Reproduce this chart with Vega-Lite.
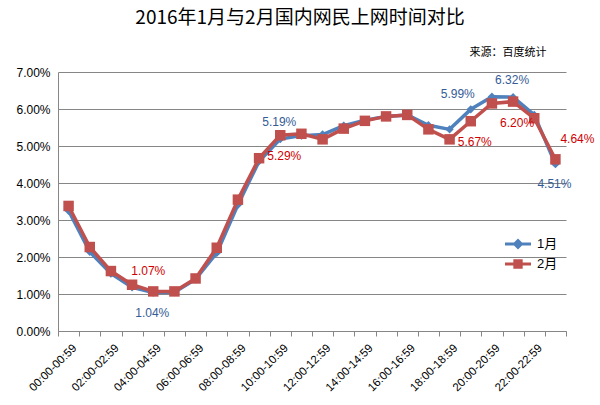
{
  "$schema": "https://vega.github.io/schema/vega-lite/v6.json",
  "width": 508,
  "height": 259,
  "autosize": {"type": "none"},
  "padding": {"left": 58, "top": 72, "right": 34, "bottom": 74},
  "background": "white",
  "config": {
    "view": {"stroke": null},
    "font": "'Liberation Sans', 'Noto Sans CJK SC', sans-serif"
  },
  "title": {
    "text": "2016年1月与2月国内网民上网时间对比",
    "font": "'Noto Sans CJK SC', sans-serif",
    "fontSize": 19,
    "fontWeight": "normal",
    "color": "#000000",
    "anchor": "middle",
    "dx": -12,
    "offset": 18
  },
  "data": {
    "values": [
      {"hour": "00:00-00:59", "series": "1月", "v": 0.0325},
      {"hour": "01:00-01:59", "series": "1月", "v": 0.0214},
      {"hour": "02:00-02:59", "series": "1月", "v": 0.0155},
      {"hour": "03:00-03:59", "series": "1月", "v": 0.0118},
      {"hour": "04:00-04:59", "series": "1月", "v": 0.0104},
      {"hour": "05:00-05:59", "series": "1月", "v": 0.0105},
      {"hour": "06:00-06:59", "series": "1月", "v": 0.0140},
      {"hour": "07:00-07:59", "series": "1月", "v": 0.0211},
      {"hour": "08:00-08:59", "series": "1月", "v": 0.0341},
      {"hour": "09:00-09:59", "series": "1月", "v": 0.0459},
      {"hour": "10:00-10:59", "series": "1月", "v": 0.0519},
      {"hour": "11:00-11:59", "series": "1月", "v": 0.0528},
      {"hour": "12:00-12:59", "series": "1月", "v": 0.0531},
      {"hour": "13:00-13:59", "series": "1月", "v": 0.0555},
      {"hour": "14:00-14:59", "series": "1月", "v": 0.0570},
      {"hour": "15:00-15:59", "series": "1月", "v": 0.0580},
      {"hour": "16:00-16:59", "series": "1月", "v": 0.0584},
      {"hour": "17:00-17:59", "series": "1月", "v": 0.0556},
      {"hour": "18:00-18:59", "series": "1月", "v": 0.0545},
      {"hour": "19:00-19:59", "series": "1月", "v": 0.0599},
      {"hour": "20:00-20:59", "series": "1月", "v": 0.0633},
      {"hour": "21:00-21:59", "series": "1月", "v": 0.0632},
      {"hour": "22:00-22:59", "series": "1月", "v": 0.0584},
      {"hour": "23:00-23:59", "series": "1月", "v": 0.0451},
      {"hour": "00:00-00:59", "series": "2月", "v": 0.0338},
      {"hour": "01:00-01:59", "series": "2月", "v": 0.0227},
      {"hour": "02:00-02:59", "series": "2月", "v": 0.0162},
      {"hour": "03:00-03:59", "series": "2月", "v": 0.0125},
      {"hour": "04:00-04:59", "series": "2月", "v": 0.0107},
      {"hour": "05:00-05:59", "series": "2月", "v": 0.0107},
      {"hour": "06:00-06:59", "series": "2月", "v": 0.0142},
      {"hour": "07:00-07:59", "series": "2月", "v": 0.0225},
      {"hour": "08:00-08:59", "series": "2月", "v": 0.0355},
      {"hour": "09:00-09:59", "series": "2月", "v": 0.0467},
      {"hour": "10:00-10:59", "series": "2月", "v": 0.0529},
      {"hour": "11:00-11:59", "series": "2月", "v": 0.0533},
      {"hour": "12:00-12:59", "series": "2月", "v": 0.0518},
      {"hour": "13:00-13:59", "series": "2月", "v": 0.0547},
      {"hour": "14:00-14:59", "series": "2月", "v": 0.0568},
      {"hour": "15:00-15:59", "series": "2月", "v": 0.0580},
      {"hour": "16:00-16:59", "series": "2月", "v": 0.0584},
      {"hour": "17:00-17:59", "series": "2月", "v": 0.0545},
      {"hour": "18:00-18:59", "series": "2月", "v": 0.0518},
      {"hour": "19:00-19:59", "series": "2月", "v": 0.0567},
      {"hour": "20:00-20:59", "series": "2月", "v": 0.0615},
      {"hour": "21:00-21:59", "series": "2月", "v": 0.0620},
      {"hour": "22:00-22:59", "series": "2月", "v": 0.0575},
      {"hour": "23:00-23:59", "series": "2月", "v": 0.0464}
    ]
  },
  "encoding": {
    "x": {
      "field": "hour",
      "type": "nominal",
      "scale": {"type": "band", "paddingInner": 0, "paddingOuter": 0},
      "axis": {
        "title": null,
        "tickBand": "extent",
        "labelAngle": -45,
        "labelAlign": "right",
        "labelBaseline": "middle",
        "labelFontSize": 11.5,
        "labelColor": "#000000",
        "labelPadding": 10,
        "labelOffset": 6,
        "labelOverlap": false,
        "labelExpr": "toNumber(substring(datum.label, 0, 2)) % 2 == 0 ? datum.label : ''",
        "domainColor": "#868686",
        "tickColor": "#868686",
        "tickSize": 5,
        "grid": false
      }
    },
    "y": {
      "field": "v",
      "type": "quantitative",
      "scale": {"domain": [0, 0.07], "nice": false},
      "axis": {
        "values": [0, 0.01, 0.02, 0.03, 0.04, 0.05, 0.06, 0.07],
        "format": ".2%",
        "labelFontSize": 12,
        "labelColor": "#000000",
        "labelPadding": 8,
        "ticks": false,
        "domainColor": "#868686",
        "gridColor": "#868686",
        "gridWidth": 1,
        "title": "来源：百度统计",
        "titleFont": "'Noto Sans CJK SC', sans-serif",
        "titleFontSize": 11,
        "titleFontWeight": "normal",
        "titleColor": "#000000",
        "titleAngle": 0,
        "titleAlign": "right",
        "titleBaseline": "middle",
        "titleX": 488,
        "titleY": -20
      }
    },
    "color": {
      "field": "series",
      "type": "nominal",
      "scale": {"domain": ["1月", "2月"], "range": ["#4F81BD", "#C0504D"]},
      "legend": {
        "title": null,
        "orient": "none",
        "legendX": 447,
        "legendY": 159,
        "padding": 0,
        "rowPadding": -1,
        "symbolSize": 676,
        "symbolStrokeWidth": 0,
        "labelFontSize": 13,
        "labelColor": "#000000",
        "labelOffset": 6,
        "encode": {
          "symbols": {
            "update": {
              "shape": {"signal": "datum.value == '1月' ? 'M-1,-0.12H1V0.12H-1Z M0,-0.42L0.42,0L0,0.42L-0.42,0Z' : 'M-1,-0.12H1V0.12H-1Z M-0.36,-0.36H0.36V0.36H-0.36Z'"},
              "fill": {"signal": "datum.value == '1月' ? '#4F81BD' : '#C0504D'"},
              "stroke": {"value": "transparent"},
              "opacity": {"value": 1}
            }
          }
        }
      }
    }
  },
  "layer": [
    {
      "transform": [{"filter": "datum.series == '1月'"}],
      "mark": {"type": "line", "strokeWidth": 3.5, "strokeJoin": "round"}
    },
    {
      "transform": [{"filter": "datum.series == '1月'"}],
      "mark": {"type": "point", "shape": "diamond", "filled": true, "size": 70, "opacity": 1}
    },
    {
      "transform": [{"filter": "datum.series == '2月'"}],
      "mark": {"type": "line", "strokeWidth": 3.5, "strokeJoin": "round"}
    },
    {
      "transform": [{"filter": "datum.series == '2月'"}],
      "mark": {"type": "point", "shape": "square", "filled": true, "size": 110, "opacity": 1}
    },
    {
      "transform": [{"filter": "datum.series == '1月' && (datum.hour == '10:00-10:59' || datum.hour == '21:00-21:59')"}],
      "mark": {"type": "text", "dy": -17, "dx": -1, "fontSize": 12},
      "encoding": {"text": {"field": "v", "type": "quantitative", "format": ".2%"}, "color": {"value": "#355C96"}}
    },
    {
      "transform": [{"filter": "datum.series == '1月' && datum.hour == '19:00-19:59'"}],
      "mark": {"type": "text", "dy": -15, "dx": -13, "fontSize": 12},
      "encoding": {"text": {"field": "v", "type": "quantitative", "format": ".2%"}, "color": {"value": "#355C96"}}
    },
    {
      "transform": [{"filter": "datum.series == '1月' && (datum.hour == '04:00-04:59' || datum.hour == '23:00-23:59')"}],
      "mark": {"type": "text", "dy": 20, "dx": -1, "fontSize": 12},
      "encoding": {"text": {"field": "v", "type": "quantitative", "format": ".2%"}, "color": {"value": "#355C96"}}
    },
    {
      "transform": [{"filter": "datum.series == '2月' && datum.hour == '04:00-04:59'"}],
      "mark": {"type": "text", "dy": -20, "dx": -5, "fontSize": 12},
      "encoding": {"text": {"field": "v", "type": "quantitative", "format": ".2%"}, "color": {"value": "#D00000"}}
    },
    {
      "transform": [{"filter": "datum.series == '2月' && datum.hour == '23:00-23:59'"}],
      "mark": {"type": "text", "dy": -20, "dx": 22, "fontSize": 12},
      "encoding": {"text": {"field": "v", "type": "quantitative", "format": ".2%"}, "color": {"value": "#D00000"}}
    },
    {
      "transform": [{"filter": "datum.series == '2月' && (datum.hour == '10:00-10:59' || datum.hour == '19:00-19:59' || datum.hour == '21:00-21:59')"}],
      "mark": {"type": "text", "dy": 21, "dx": 4, "fontSize": 12},
      "encoding": {"text": {"field": "v", "type": "quantitative", "format": ".2%"}, "color": {"value": "#D00000"}}
    }
  ]
}
